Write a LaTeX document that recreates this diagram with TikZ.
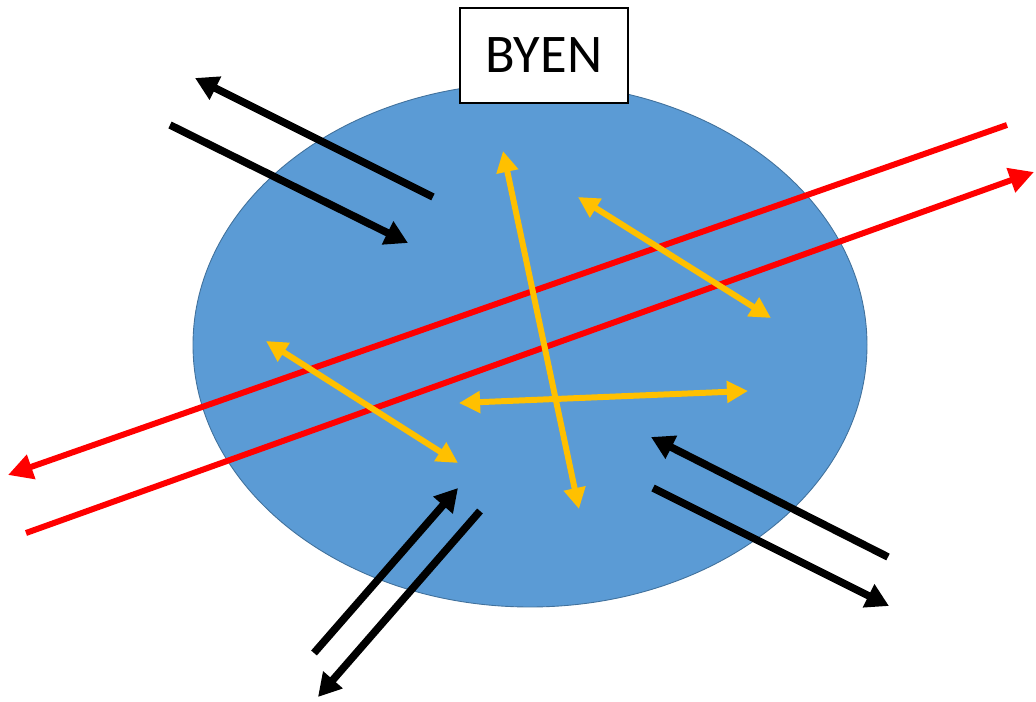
\documentclass[tikz,border=0pt]{standalone}
\usepackage{fontspec}
\setmainfont{Carlito}
\usepackage{tikz}
\usetikzlibrary{arrows.meta, calc}
\usepackage{xcolor}
\definecolor{cityblue}{RGB}{91, 155, 213}
\definecolor{cityedge}{RGB}{65, 113, 156}
\definecolor{flowyellow}{RGB}{255, 192, 0}
\definecolor{flowred}{RGB}{255, 0, 0}

\begin{document}
\begin{tikzpicture}[x=0.02cm, y=-0.02cm,
    outflow/.style={draw=black, line width=4.3pt, -{Triangle[length=13pt, width=14pt]}},
    transit/.style={draw=flowred, line width=3.4pt, -{Triangle[length=14pt, width=14pt]}},
    internal/.style={draw=flowyellow, line width=3.4pt, {Triangle[length=12pt, width=12pt]}-{Triangle[length=12pt, width=12pt]}},
    titlebox/.style={draw=black, line width=0.8pt, fill=white, minimum width=168*0.02cm,
        minimum height=95*0.02cm, font=\fontsize{31}{36}\selectfont}]
  \useasboundingbox (0,0) rectangle (1036,702);

  % the city
  \draw[fill=cityblue, draw=cityedge, line width=0.5pt] (530,345) ellipse [x radius=337, y radius=262];
  \node[titlebox] (byen) at (544,55.5) {BYEN};

  % black pairs in and out
  \coordinate (nwA1) at (433,197);  \coordinate (nwA2) at (195,78);
  \coordinate (nwB1) at (170,125);  \coordinate (nwB2) at (408,243);
  \coordinate (swA1) at (314,653);  \coordinate (swA2) at (458,488);
  \coordinate (swB1) at (480,511);  \coordinate (swB2) at (318,697);
  \coordinate (seA1) at (888,557);  \coordinate (seA2) at (651,437);
  \coordinate (seB1) at (653,488);  \coordinate (seB2) at (889,606);
  \draw[outflow] (nwA1) -- (nwA2);
  \draw[outflow] (nwB1) -- (nwB2);
  \draw[outflow] (swA1) -- (swA2);
  \draw[outflow] (swB1) -- (swB2);
  \draw[outflow] (seA1) -- (seA2);
  \draw[outflow] (seB1) -- (seB2);

  % through traffic
  \coordinate (redA1) at (1007,125); \coordinate (redA2) at (8,475);
  \coordinate (redB1) at (26,533);   \coordinate (redB2) at (1034,172);
  \draw[transit] (redA1) -- (redA2);
  \draw[transit] (redB1) -- (redB2);

  % inside the city
  \coordinate (ylA1) at (503,151);  \coordinate (ylA2) at (579,509);
  \coordinate (ylB1) at (578,197);  \coordinate (ylB2) at (771,318);
  \coordinate (ylC1) at (266,341);  \coordinate (ylC2) at (458,463);
  \coordinate (ylD1) at (459,403);  \coordinate (ylD2) at (748,391);
  \draw[internal] (ylA1) -- (ylA2);
  \draw[internal] (ylB1) -- (ylB2);
  \draw[internal] (ylC1) -- (ylC2);
  \draw[internal] (ylD1) -- (ylD2);
\end{tikzpicture}
\end{document}
